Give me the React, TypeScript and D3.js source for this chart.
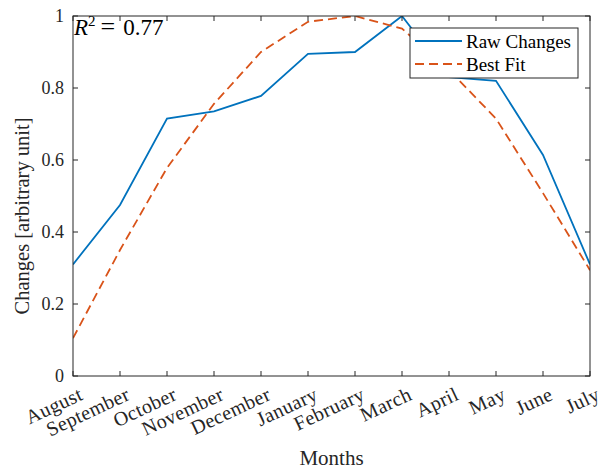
import React from "react";
import * as d3 from "d3";

const months = ["August","September","October","November","December","January","February","March","April","May","June","July"];
const rawChanges = [0.31, 0.475, 0.715, 0.735, 0.778, 0.895, 0.9, 1.0, 0.83, 0.82, 0.614, 0.31];
const bestFit = [0.105, 0.35, 0.578, 0.756, 0.9, 0.984, 1.0, 0.965, 0.85, 0.715, 0.508, 0.294];
const yTicks = [0, 0.2, 0.4, 0.6, 0.8, 1];
const r2Text = "0.77";

const W = 606, H = 470;
const M = { left: 73, right: 16, top: 16, bottom: 94 };
const FONT = "'Liberation Serif', 'DejaVu Serif', serif";

export default function App() {
  const x = d3.scalePoint<string>().domain(months).range([M.left, W - M.right]);
  const y = d3.scaleLinear().domain([0, 1]).range([H - M.bottom, M.top]);
  const line = (vals: number[]) =>
    d3.line<number>().x((_, i) => x(months[i]) as number).y((d) => y(d))(vals) || "";
  const x0 = M.left, x1 = W - M.right, y0 = H - M.bottom, y1 = M.top;
  const tl = 5;
  return (
    <svg width={W} height={H} style={{ position: "absolute", left: 0, top: 0, background: "#fff" }}>
      <rect x={0} y={0} width={W} height={H} fill="#fff" />
      <defs>
        <clipPath id="clip"><rect x={x0} y={y1} width={x1 - x0} height={y0 - y1} /></clipPath>
      </defs>
      <g clipPath="url(#clip)">
        <path d={line(rawChanges)} fill="none" stroke="#0072BD" strokeWidth={1.8} />
        <path d={line(bestFit)} fill="none" stroke="#D95319" strokeWidth={1.8} strokeDasharray="9,5" />
      </g>
      <rect x={x0} y={y1} width={x1 - x0} height={y0 - y1} fill="none" stroke="#262626" strokeWidth={1} />
      {months.map((m) => {
        const px = x(m) as number;
        return (
          <g key={m}>
            <line x1={px} x2={px} y1={y0} y2={y0 - tl} stroke="#262626" />
            <line x1={px} x2={px} y1={y1} y2={y1 + tl} stroke="#262626" />
            <text transform={`translate(${px + 5},${y0 + 10}) rotate(-25)`} textAnchor="end" dominantBaseline="hanging"
              fontFamily={FONT} fontSize={20} letterSpacing={0.4} fill="#262626">{m}</text>
          </g>
        );
      })}
      {yTicks.map((t) => (
        <g key={t}>
          <line x1={x0} x2={x0 + tl} y1={y(t)} y2={y(t)} stroke="#262626" />
          <line x1={x1} x2={x1 - tl} y1={y(t)} y2={y(t)} stroke="#262626" />
          <text x={x0 - 9} y={y(t)} dy="0.35em" textAnchor="end" fontFamily={FONT} fontSize={18} fill="#262626">{d3.format("~g")(t)}</text>
        </g>
      ))}
      <text x={(x0 + x1) / 2} y={H - 5} textAnchor="middle" fontFamily={FONT} fontSize={21} fill="#262626">Months</text>
      <text transform={`translate(29,216) rotate(-90)`} textAnchor="middle" fontFamily={FONT} fontSize={20.5} fill="#262626">Changes [arbitrary unit]</text>
      <text x={x0 + 1} y={y1 + 19} fontFamily={FONT} fontSize={23} fill="#000">
        <tspan fontStyle="italic">R</tspan>
        <tspan dy={-9} fontSize={15}>2</tspan>
        <tspan dy={9} dx={5} fontSize={26}>=</tspan>
        <tspan dx={8}>{r2Text}</tspan>
      </text>
      <g>
        <rect x={410} y={28} width={168} height={50} fill="#fff" stroke="#262626" strokeWidth={1} />
        <line x1={415} x2={462} y1={41} y2={41} stroke="#0072BD" strokeWidth={1.8} />
        <line x1={415} x2={462} y1={64} y2={64} stroke="#D95319" strokeWidth={1.8} strokeDasharray="9,5" />
        <text x={466} y={41} dy="0.35em" fontFamily={FONT} fontSize={19} fill="#000">Raw Changes</text>
        <text x={466} y={64} dy="0.35em" fontFamily={FONT} fontSize={19} fill="#000">Best Fit</text>
      </g>
    </svg>
  );
}
